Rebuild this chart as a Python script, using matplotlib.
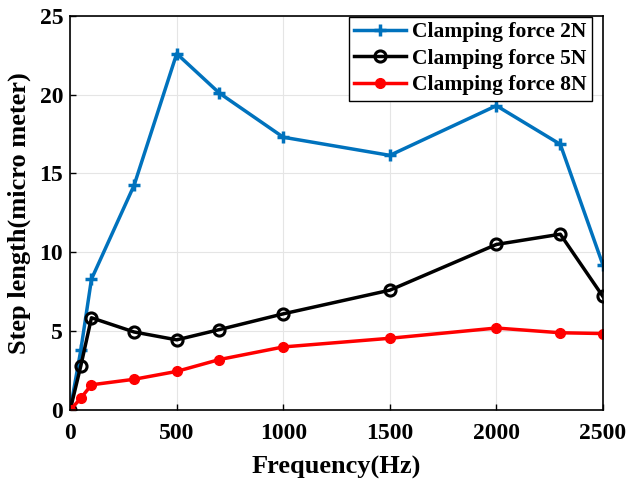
import matplotlib.pyplot as plt

# Données
freq = [0, 50, 100, 300, 500, 700, 1000, 1500, 2000, 2300, 2500]
step_2n = [0, 3.8, 8.3, 14.25, 22.6, 20.1, 17.3, 16.15, 19.3, 16.85, 9.2]
step_5n = [0, 2.8, 5.85, 4.95, 4.45, 5.1, 6.1, 7.6, 10.5, 11.15, 7.2]
step_8n = [0, 0.75, 1.6, 1.95, 2.45, 3.2, 4.0, 4.55, 5.2, 4.9, 4.85]

plt.rcParams['font.family'] = ['Liberation Serif', 'DejaVu Serif']
plt.rcParams['font.weight'] = 'bold'

fig = plt.figure(figsize=(6.32, 4.79), dpi=100)
ax = fig.add_axes([0.111, 0.144, 0.843, 0.823])

ax.plot(freq, step_2n, color='#0072BD', lw=2.5, marker='+', ms=8, mew=2.5,
        label='Clamping force 2N')
ax.plot(freq, step_5n, color='black', lw=2.5, marker='o', ms=8, mew=2.2,
        mfc='none', label='Clamping force 5N')
ax.plot(freq, step_8n, color='red', lw=2.5, marker='o', ms=7, mfc='red',
        label='Clamping force 8N')

ax.set_xlim(0, 2500)
ax.set_ylim(0, 25)
ax.set_xticks([0, 500, 1000, 1500, 2000, 2500])
ax.set_yticks([0, 5, 10, 15, 20, 25])
ax.tick_params(labelsize=17, direction='in', length=4, width=1)
ax.tick_params(axis='x', pad=9)
ax.tick_params(axis='y', pad=5)
for lab in ax.get_xticklabels() + ax.get_yticklabels():
    lab.set_fontweight('bold')
ax.grid(True, color='#e5e5e5', lw=0.8)
ax.set_axisbelow(True)
for s in ax.spines.values():
    s.set_linewidth(1.2)

ax.set_xlabel('Frequency(Hz)', fontsize=19, fontweight='bold', labelpad=9)
ax.set_ylabel('Step length(micro meter)', fontsize=19, fontweight='bold',
              labelpad=6)

leg = ax.legend(loc='upper right', bbox_to_anchor=(0.98, 0.997), fontsize=15.5,
                fancybox=False, framealpha=1, edgecolor='black',
                borderaxespad=0.0, handlelength=2.4, labelspacing=0.3,
                borderpad=0.25, handletextpad=0.3)
leg.get_frame().set_linewidth(1.0)
for t in leg.get_texts():
    t.set_fontweight('bold')

fig.savefig('out.png', dpi=100)
